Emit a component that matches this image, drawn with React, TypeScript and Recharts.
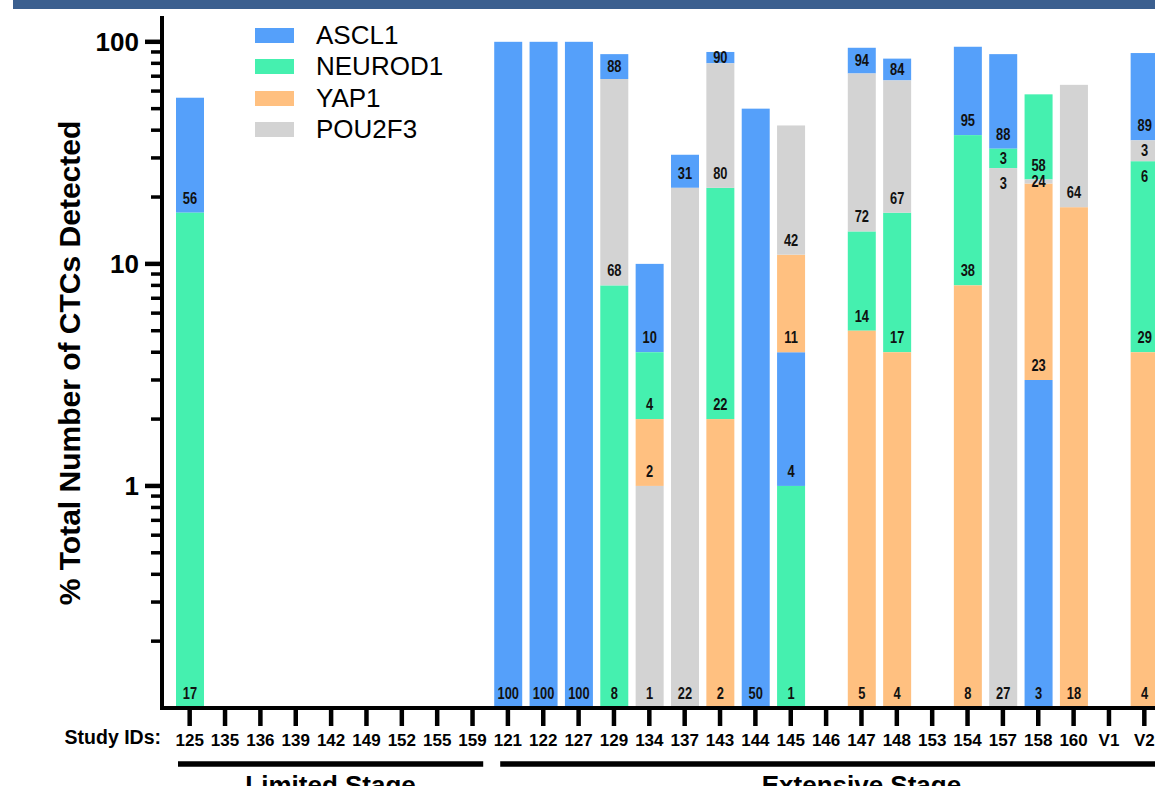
import React from 'react'
import { BarChart, Bar, XAxis, YAxis, Legend } from 'recharts'

const FONT = '"Liberation Sans", Arial, sans-serif'

const STUDY_IDS = [
  '125', '135', '136', '139', '142', '149', '152', '155', '159',
  '121', '122', '127', '129', '134', '137', '143', '144', '145', '146',
  '147', '148', '153', '154', '157', '158', '160', 'V1', 'V2',
]

const n = null
// top of each marker's segment, % of CTCs
const ASCL1 = [56, n, n, n, n, n, n, n, n, 100, 100, 100, 88, 10, 31, 90, 50, 4, n, 94, 84, n, 95, 88, 3, n, n, 89]
const NEUROD1 = [17, n, n, n, n, n, n, n, n, n, n, n, 8, 4, n, 22, n, 1, n, 14, 17, n, 38, 33, 58, n, n, 29]
const YAP1 = [n, n, n, n, n, n, n, n, n, n, n, n, n, 2, n, 2, n, 11, n, 5, 4, n, 8, n, 23, 18, n, 4]
const POU2F3 = [n, n, n, n, n, n, n, n, n, n, n, n, 68, 1, 22, 80, n, 42, n, 72, 67, n, n, 27, 24, 64, n, 36]

// printed numbers that differ from the segment top
const LABEL_OVERRIDES: Record<string, string> = { '157|NEUROD1': '3', 'V2|POU2F3': '3' }
// extra numbers printed just under a segment's top
const TOP_NOTES = [
  { id: '157', series: 'POU2F3', text: '3' },
  { id: 'V2', series: 'NEUROD1', text: '6' },
]

const Y_MIN = 0.1
const Y_MAX = 128
const MAJOR_TICKS = [1, 10, 100]
const Y_TICKS = [
  0.2, 0.3, 0.4, 0.5, 0.6, 0.7, 0.8, 0.9, 1,
  2, 3, 4, 5, 6, 7, 8, 9, 10,
  20, 30, 40, 50, 60, 70, 80, 90, 100,
]

const SERIES = [
  { key: 'ASCL1', color: '#55A0FA', values: ASCL1 },
  { key: 'NEUROD1', color: '#45F0AF', values: NEUROD1 },
  { key: 'YAP1', color: '#FFC080', values: YAP1 },
  { key: 'POU2F3', color: '#D3D3D3', values: POU2F3 },
]
const SERIES_ORDER = SERIES.map((s) => s.key)

// each segment spans from the next smaller marker value up to its own value
const rows = STUDY_IDS.map((id, i) => {
  const present = SERIES.filter((s) => s.values[i] != null)
    .map((s) => ({ key: s.key, v: s.values[i] as number }))
    .sort((a, b) => a.v - b.v)
  const row: Record<string, unknown> = { id }
  let low = Y_MIN
  present.forEach((p) => {
    row[p.key] = [low, p.v]
    low = p.v
  })
  return row
})

// condensed bold numbers, like the narrow face in the original
function SegLabel({ cx, cy, text }: { cx: number; cy: number; text: string }) {
  return (
    <text
      transform={`translate(${cx}, ${cy}) scale(0.78, 1)`}
      textAnchor="middle"
      dominantBaseline="central"
      fontFamily={FONT}
      fontSize={16.5}
      fontWeight={700}
      fill="#111"
    >
      {text}
    </text>
  )
}

function makeShape(key: string, color: string) {
  // eslint-disable-next-line @typescript-eslint/no-explicit-any
  return (props: any) => {
    const { x, y, width, height, payload } = props
    const range = payload[key] as [number, number]
    if (!range) return <g />
    const text = LABEL_OVERRIDES[`${payload.id}|${key}`] ?? String(range[1])
    const ly = height >= 30 ? y + height - 14.5 : y + height / 2
    const note = TOP_NOTES.find((t) => t.id === payload.id && t.series === key)
    return (
      <g>
        <rect x={x} y={y} width={width} height={height} fill={color} />
        <SegLabel cx={x + width / 2} cy={ly} text={text} />
        {note && <SegLabel cx={x + width / 2} cy={y + 15} text={note.text} />}
      </g>
    )
  }
}

// eslint-disable-next-line @typescript-eslint/no-explicit-any
function YTick({ x, y, payload }: any) {
  const major = MAJOR_TICKS.includes(payload.value)
  return (
    <g>
      <line x1={x - (major ? 15 : 9)} x2={x} y1={y} y2={y} stroke="#000" strokeWidth={major ? 4.5 : 3.5} />
      {major && (
        <text x={x - 21} y={y} textAnchor="end" dominantBaseline="central" fontFamily={FONT} fontSize={26} fontWeight={700} fill="#000">
          {payload.value}
        </text>
      )}
    </g>
  )
}

// eslint-disable-next-line @typescript-eslint/no-explicit-any
function XTick({ x, y, payload }: any) {
  return (
    <g>
      <line x1={x} x2={x} y1={y} y2={y + 16} stroke="#000" strokeWidth={4.5} />
      <text x={x} y={y + 36} textAnchor="middle" fontFamily={FONT} fontSize={17} fontWeight={700} fill="#000">
        {payload.value}
      </text>
    </g>
  )
}

const PAD_LEFT = 10

// eslint-disable-next-line @typescript-eslint/no-explicit-any
function XLabel({ viewBox }: any) {
  const { x, y, width } = viewBox
  const x0 = x + PAD_LEFT
  const bw = (width - PAD_LEFT) / STUDY_IDS.length
  const lineY = y + 56
  return (
    <g fontFamily={FONT} fontWeight={700} fill="#000">
      <text x={x - 1} y={y + 36} textAnchor="end" fontSize={19.5}>Study IDs:</text>
      <line x1={x0 + 6} x2={x0 + 9 * bw - 7} y1={lineY} y2={lineY} stroke="#000" strokeWidth={5.5} />
      <line x1={x0 + 9 * bw + 10} x2={x + width + 10} y1={lineY} y2={lineY} stroke="#000" strokeWidth={5.5} />
      <text x={x0 + 4.5 * bw - 0.5} y={y + 86} textAnchor="middle" fontSize={26}>Limited Stage</text>
      <text x={x0 + 19.5 * bw} y={y + 86} textAnchor="middle" fontSize={26}>Extensive Stage</text>
    </g>
  )
}

// eslint-disable-next-line @typescript-eslint/no-explicit-any
function YLabel({ viewBox }: any) {
  const cx = 69
  const cy = viewBox.y + viewBox.height / 2
  return (
    <text x={cx} y={cy} transform={`rotate(-90, ${cx}, ${cy})`} textAnchor="middle" dominantBaseline="central" fontFamily={FONT} fontSize={30} fontWeight={700} fill="#000">
      % Total Number of CTCs Detected
    </text>
  )
}

// eslint-disable-next-line @typescript-eslint/no-explicit-any
function LegendBox({ payload }: any) {
  // eslint-disable-next-line @typescript-eslint/no-explicit-any
  const items = [...(payload || [])].sort((a: any, b: any) => SERIES_ORDER.indexOf(a.value) - SERIES_ORDER.indexOf(b.value))
  return (
    <div style={{ display: 'flex', flexDirection: 'column' }}>
      {/* eslint-disable-next-line @typescript-eslint/no-explicit-any */}
      {items.map((p: any) => (
        <div key={p.value} style={{ display: 'flex', alignItems: 'center', height: 31.3 }}>
          <span style={{ display: 'inline-block', width: 39, height: 15, background: p.color, marginRight: 22 }} />
          <span style={{ fontFamily: FONT, fontSize: 26, lineHeight: '31px', color: '#000' }}>{p.value}</span>
        </div>
      ))}
    </div>
  )
}

const axisLine = { stroke: '#000', strokeWidth: 4, strokeLinecap: 'square' as const }

export default function App() {
  return (
    <div style={{ position: 'absolute', left: 0, top: 0, width: 1155, height: 786, overflow: 'hidden', background: '#fff' }}>
      <div style={{ position: 'absolute', left: 13, top: 0, right: 0, height: 9, background: '#3B5F8F' }} />
      <BarChart
        width={1170}
        height={786}
        data={rows}
        margin={{ top: 18, right: 8, bottom: 0, left: 0 }}
        barSize={28}
        barGap={-28}
      >
        <XAxis
          dataKey="id"
          interval={0}
          tickSize={0}
          tickLine={false}
          axisLine={axisLine}
          tick={<XTick />}
          padding={{ left: PAD_LEFT, right: 0 }}
          height={78}
          label={<XLabel />}
        />
        <YAxis
          scale="log"
          domain={[Y_MIN, Y_MAX]}
          allowDataOverflow
          ticks={Y_TICKS}
          interval={0}
          tickSize={0}
          tickLine={false}
          axisLine={axisLine}
          tick={<YTick />}
          width={162}
          label={<YLabel />}
        />
        <Legend
          layout="vertical"
          verticalAlign="middle"
          align="center"
          content={<LegendBox />}
          wrapperStyle={{ top: 20, left: 255, width: 260 }}
        />
        {SERIES.map((s) => (
          <Bar
            key={s.key}
            dataKey={s.key}
            name={s.key}
            fill={s.color}
            isAnimationActive={false}
            shape={makeShape(s.key, s.color)}
          />
        ))}
      </BarChart>
    </div>
  )
}
